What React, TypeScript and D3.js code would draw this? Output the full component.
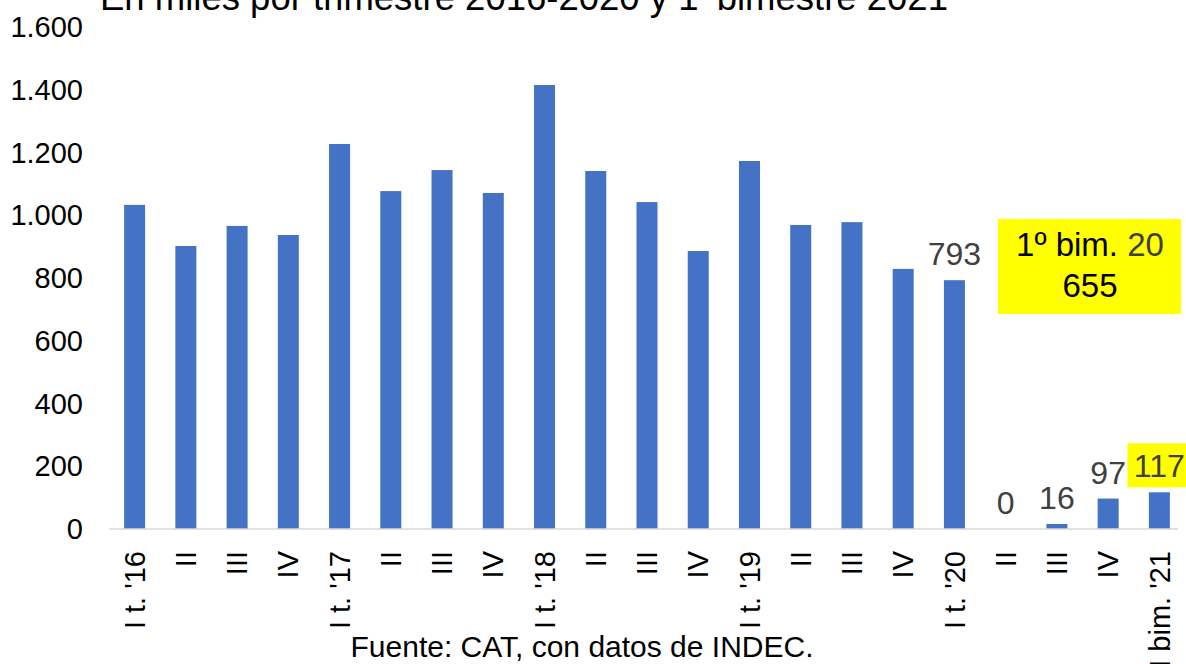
import React from "react";
import * as d3 from "d3";

const categories = ["I t. '16","II","III","IV","I t. '17","II ","III ","IV ","I t. '18","II  ","III  ","IV  ","I t. '19","II   ","III   ","IV   ","I t. '20","II    ","III    ","IV    ","I bim. '21"];
const values = [1033, 902, 966, 937, 1227, 1077, 1144, 1071, 1415, 1141, 1042, 886, 1173, 969, 978, 829, 793, 0, 16, 97, 117];
const labeledIdx = [16, 17, 18, 19, 20];
const yTicks = [0, 200, 400, 600, 800, 1000, 1200, 1400, 1600];
const title = "En miles por trimestre 2016-2020 y 1";
const titleSup = "º";
const titleEnd = " bimestre 2021";
const source = "Fuente: CAT, con datos de INDEC.";
const noteLine1a = "1º bim. ";
const noteLine1b = "20";
const noteLine2 = "655";

const W = 1186, H = 664;
const FONT = "Liberation Sans, Arial, sans-serif";

export default function App() {
  const x = d3.scaleBand<string>().domain(categories).range([109, 1185]).paddingInner(0.59).paddingOuter(0.295);
  const y = d3.scaleLinear().domain([0, 1600]).range([529, 27]);
  const fmt = (v: number) => d3.format(",")(v).replace(/,/g, ".");
  const bw = x.bandwidth();
  return (
    <div style={{ position: "absolute", left: 0, top: 0 }}>
      <svg width={W} height={H} style={{ display: "block", background: "#fff" }} fontFamily={FONT}>
        <text x={100} y={10} fontSize={36.5} fill="#000">
          {title}
          <tspan dy={-14} fontSize={22}>{titleSup}</tspan>
          <tspan dy={14}>{titleEnd}</tspan>
        </text>
        {yTicks.map((t) => (
          <text key={t} x={83} y={y(t)} dy="0.35em" textAnchor="end" fontSize={29} fill="#000">
            {fmt(t)}
          </text>
        ))}
        {categories.map((c, i) => (
          <rect key={i} x={x(c)} y={y(values[i])} width={bw} height={y(0) - y(values[i])} fill="#4472C4" />
        ))}
        <line x1={109} x2={1178} y1={y(0)} y2={y(0)} stroke="#d9d9d9" strokeWidth={1.5} />
        {categories.map((c, i) => {
          const cx = (x(c) as number) + bw / 2;
          return (
            <text key={"l" + i} transform={`translate(${cx},551) rotate(-90)`} dy="0.35em" textAnchor="end" fontSize={29} fill="#000">
              {c.trim()}
            </text>
          );
        })}
        {labeledIdx.map((i) => {
          const c = categories[i];
          const cx = (x(c) as number) + bw / 2;
          const yy = y(values[i]) - 15;
          const isLast = i === categories.length - 1;
          return (
            <g key={"d" + i}>
              {isLast && <rect x={cx - 32} y={yy - 34} width={64} height={44} fill="#FFFF00" />}
              <text x={cx} y={yy} textAnchor="middle" fontSize={32} fill="#404040">
                {values[i]}
              </text>
            </g>
          );
        })}
        <rect x={998} y={219} width={183} height={95} fill="#FFFF00" />
        <text x={1090} y={256} textAnchor="middle" fontSize={33} fill="#000">
          {noteLine1a}
          <tspan fill="#404040">{noteLine1b}</tspan>
        </text>
        <text x={1090} y={297} textAnchor="middle" fontSize={33} fill="#000">
          {noteLine2}
        </text>
        <text x={582} y={657} textAnchor="middle" fontSize={30} fill="#000">
          {source}
        </text>
      </svg>
    </div>
  );
}
